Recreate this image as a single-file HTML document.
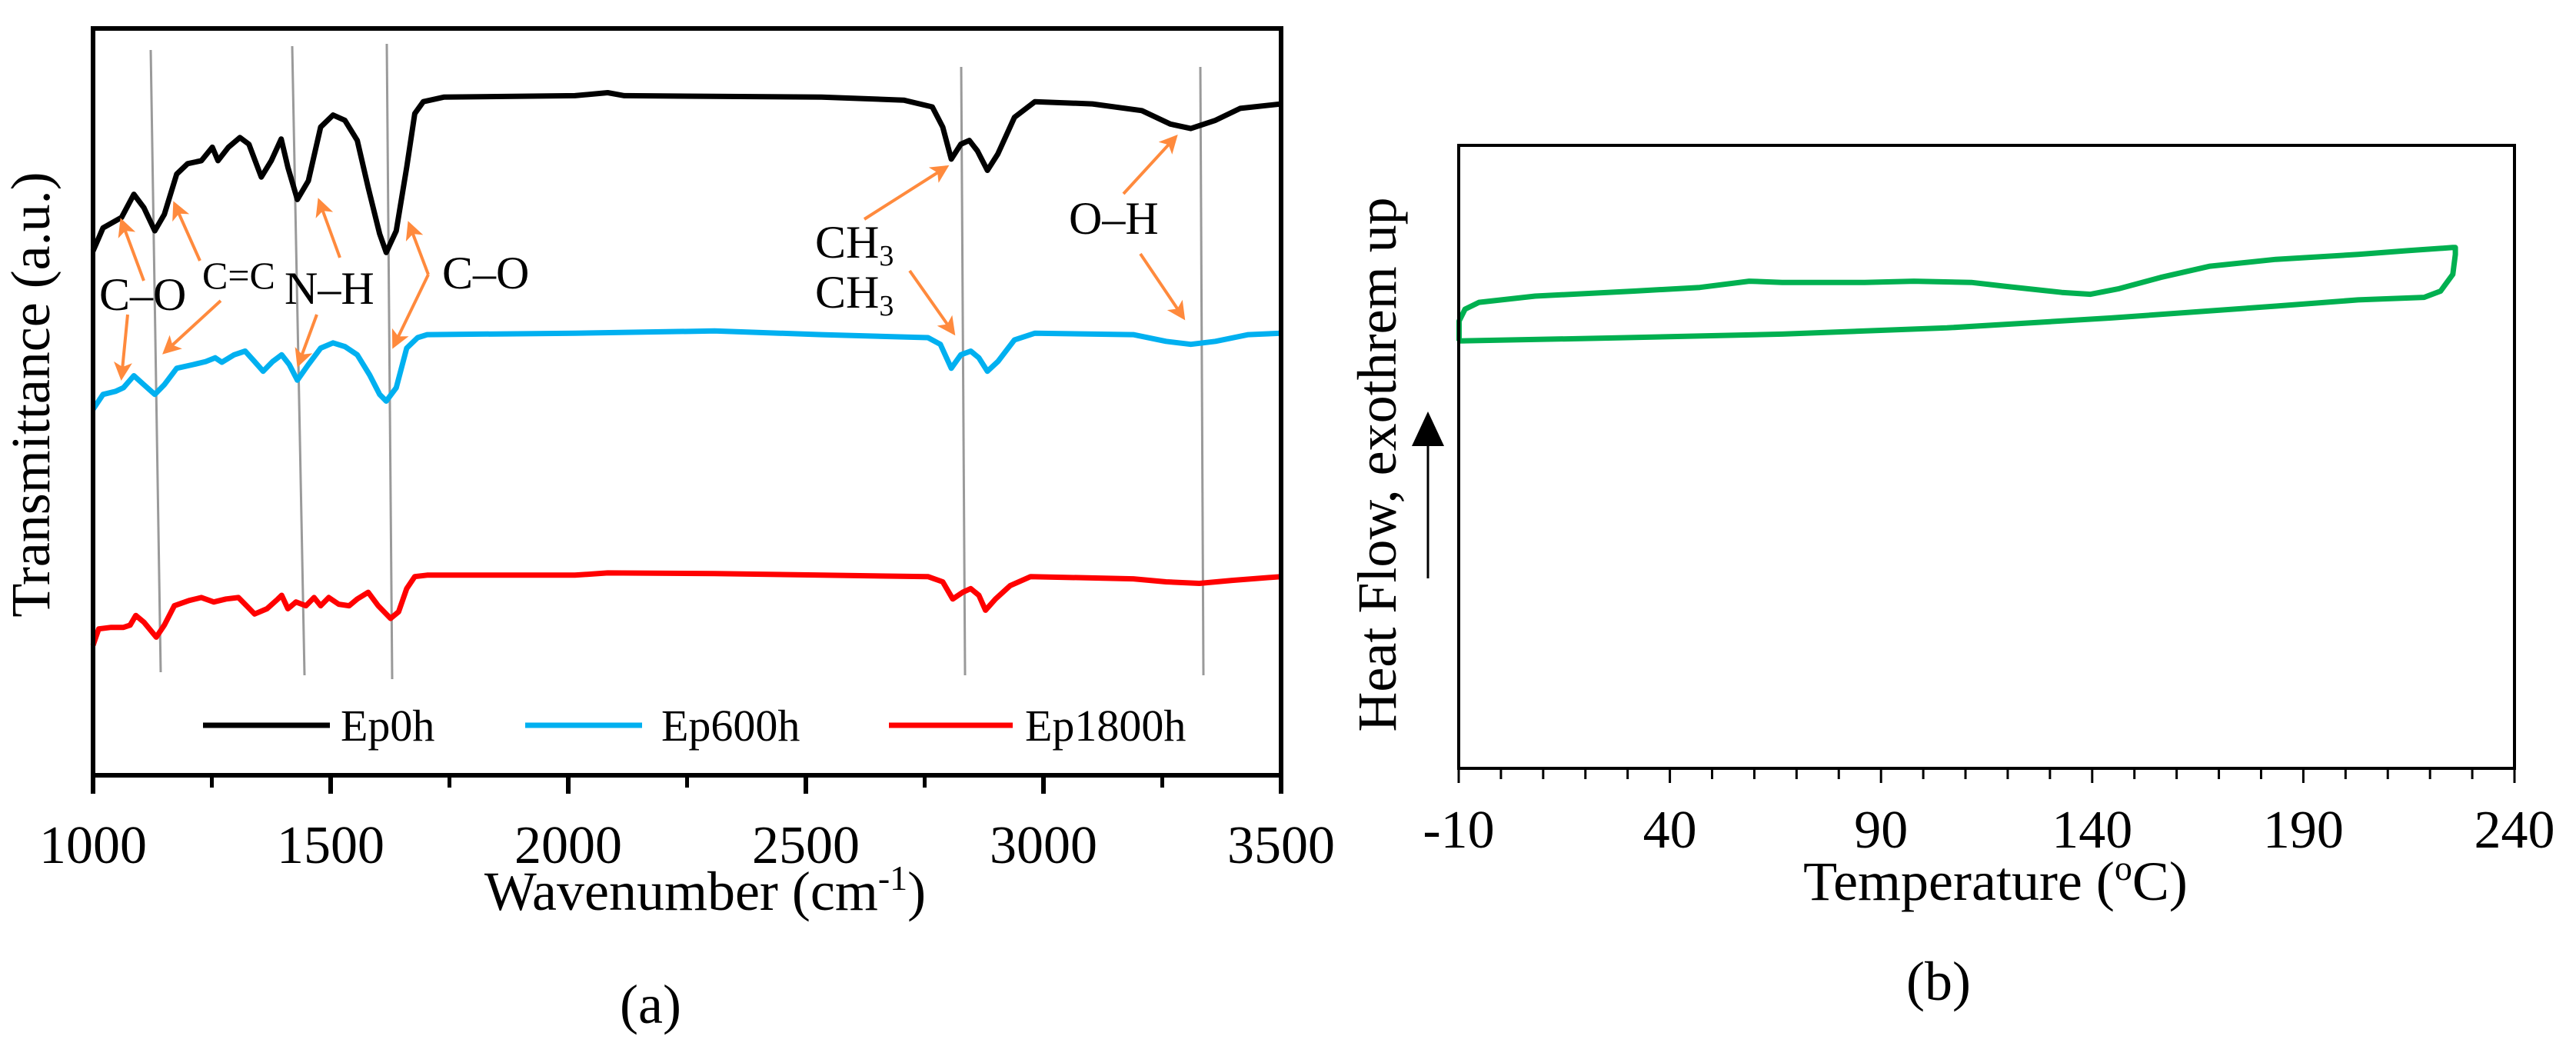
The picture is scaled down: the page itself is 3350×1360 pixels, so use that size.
<!DOCTYPE html>
<html><head><meta charset="utf-8">
<style>
html,body{margin:0;padding:0;background:#fff;}
svg{display:block;font-family:"Liberation Serif","DejaVu Serif",serif;}
svg text{font-family:"Liberation Serif","DejaVu Serif",serif !important;fill:#000;}
</style></head>
<body>
<svg id="fig" width="3350" height="1360" viewBox="0 0 3350 1360" xmlns="http://www.w3.org/2000/svg">
<defs>
<marker id="ah" markerWidth="6" markerHeight="6" refX="5" refY="3" orient="auto" markerUnits="strokeWidth">
<path d="M0,0 L6,3 L0,6 L1.5,3 Z" fill="#FF8A3D"/>
</marker>
</defs>
<g id="left"></g>
<g id="right"></g>
</svg>
<script>
// ---- FTIR data (wavenumber cm-1, transmittance a.u.) ----
const ep0hWn = [1000,1021,1060,1086,1107,1130,1150,1176,1199,1228,1251,1263,1285,1309,1328,1354,1375,1396,1410,1430,1453,1479,1505,1530,1556,1579,1603,1617,1638,1660,1677,1695,1738,2014,2083,2118,2533,2706,2766,2788,2806,2826,2844,2861,2882,2904,2939,2982,3103,3207,3267,3310,3362,3414,3500];
const ep0hT = [70.2,73.3,74.7,77.8,76.0,72.9,75.1,80.5,81.9,82.3,84.1,82.3,84.1,85.4,84.5,80.1,82.3,85.2,81.4,77.1,79.6,86.8,88.4,87.7,85.0,78.7,72.5,70.0,72.9,81.4,88.6,90.2,90.8,91.0,91.4,91.0,90.8,90.4,89.5,86.8,82.5,84.5,85.0,83.6,81.0,83.2,88.1,90.2,89.9,89.0,87.2,86.6,87.7,89.3,89.9];
const ep600hWn = [1000,1021,1047,1064,1086,1107,1130,1150,1176,1211,1237,1257,1271,1297,1320,1340,1358,1378,1397,1413,1430,1453,1479,1505,1530,1556,1582,1603,1617,1638,1660,1683,1703,2014,2308,2533,2757,2783,2806,2826,2847,2864,2882,2904,2939,2982,3189,3258,3310,3362,3431,3500];
const ep600hT = [49.0,51.0,51.4,51.9,53.5,52.3,51.0,52.3,54.5,55.0,55.4,55.9,55.3,56.3,56.8,55.4,54.1,55.4,56.3,55.0,52.9,55.0,57.2,57.9,57.4,56.3,53.6,51.0,50.1,51.9,57.2,58.6,59.0,59.2,59.5,59.0,58.6,57.7,54.5,56.3,56.8,55.9,54.1,55.4,58.3,59.2,59.0,58.1,57.7,58.1,59.0,59.2];
const ep1800hWn = [1000,1012,1038,1064,1078,1090,1107,1133,1150,1171,1202,1228,1254,1280,1306,1323,1340,1366,1389,1397,1410,1427,1448,1465,1479,1496,1517,1539,1556,1579,1600,1626,1643,1660,1677,1703,2014,2083,2308,2533,2757,2788,2809,2830,2847,2864,2878,2899,2930,2973,3189,3258,3328,3397,3500];
const ep1800hT = [17.4,19.6,19.8,19.8,20.1,21.4,20.5,18.5,20.1,22.7,23.4,23.8,23.2,23.6,23.8,22.7,21.6,22.3,23.6,24.1,22.3,23.2,22.7,23.8,22.7,23.8,22.9,22.7,23.6,24.5,22.7,21.0,21.9,25.0,26.6,26.8,26.8,27.1,27.0,26.8,26.6,25.9,23.6,24.5,25.0,24.1,22.1,23.6,25.4,26.6,26.3,25.9,25.7,26.1,26.6];
const ftirTicks = [1000,1500,2000,2500,3000,3500];
const ftirMinor = [1250,1750,2250,2750,3250];
const seriesNames = ["Ep0h","Ep600h","Ep1800h"];
// ---- DSC data (temperature °C, heat flow a.u.) ----
const dscTemp = [-9.9,-9.9,-8.5,-5.2,8.1,31.5,47.1,58.8,66.6,86.1,97.8,111.4,119.2,132.8,139.6,146.4,156.2,167.9,183.5,203.0,214.7,225.4,226.0,226.0,225.4,222.5,218.6,203.0,183.5,144.5,105.6,66.6,27.6,-9.9];
const dscHF = [68.6,71.8,73.7,74.8,75.8,76.6,77.2,78.2,78.0,78.0,78.2,78.0,77.4,76.4,76.1,77.0,78.8,80.6,81.7,82.5,83.1,83.6,83.6,82.5,79.3,76.6,75.6,75.2,74.2,72.3,70.7,69.7,69.1,68.6];
const dscTicks = [-10,40,90,140,190,240];

const NS = "http://www.w3.org/2000/svg";
const FONT = '"Liberation Serif", "DejaVu Serif", serif';
function mk(tag, attrs, parent){const e=document.createElementNS(NS,tag);for(const k in attrs)e.setAttribute(k,attrs[k]);if(tag==='text')e.setAttribute('font-family',FONT);parent.appendChild(e);return e;}

// ===== Left panel =====
const L = document.getElementById('left');
const lx0=121,lx1=1666,ly0=37,ly1=1008;
const xW = w => lx0 + (w-1000)/2500*(lx1-lx0);
const yT = t => ly1 - t*(ly1-ly0)/100;

const refLines = [[196,65,209,874],[380,60,396,878],[503,57,510,883],[1250,87,1255,878],[1561,87,1565,878]];
refLines.forEach((r,i)=>{
  const ln=mk('line',{x1:r[0],y1:r[1],x2:r[2],y2:r[3],stroke:'#9a9a9a','stroke-width':3},L);
  
  
});

const series=[[ep0hWn,ep0hT,'#000000'],[ep600hWn,ep600hT,'#00B0F0'],[ep1800hWn,ep1800hT,'#FF0000']];
series.forEach((s,i)=>{
  const d=s[0].map((w,j)=>(j?'L':'M')+xW(w).toFixed(1)+','+yT(s[1][j]).toFixed(1)).join(' ');
  const p=mk('path',{d:d,fill:'none',stroke:s[2],'stroke-width':7,'stroke-linejoin':'round'},L);
  
  
});

const fr=mk('path',{d:`M${lx0},${ly1} L${lx0},${ly0} L${lx1},${ly0} L${lx1},${ly1} Z`,fill:'none',stroke:'#000','stroke-width':6},L);


ftirTicks.forEach(t=>{
  const tk=mk('line',{x1:xW(t),y1:ly1,x2:xW(t),y2:ly1+24,stroke:'#000','stroke-width':6},L);
  
  
  const tx=mk('text',{x:xW(t),y:1122,'font-size':70,'text-anchor':'middle'},L);
  tx.textContent=t;
  
  
});
ftirMinor.forEach(t=>{
  const tk=mk('line',{x1:xW(t),y1:ly1,x2:xW(t),y2:ly1+16,stroke:'#000','stroke-width':5},L);
  
  
});

const legPos=[[264,429,443],[683,835,860],[1156,1317,1333]];
legPos.forEach((p,i)=>{
  const ln=mk('line',{x1:p[0],y1:943,x2:p[1],y2:943,stroke:series[i][2],'stroke-width':7},L);
  
  
  const tx=mk('text',{x:p[2],y:963,'font-size':58},L);
  tx.textContent=seriesNames[i];
  
  
});

const arrows=[[187,365,158,287],[166,409,158,491],[260,339,227,265],[287,391,214,458],[442,335,415,261],[412,409,388,474],[557,357,532,291],[557,357,512,450],[1124,285,1231,217],[1183,352,1240,433],[1461,252,1529,178],[1483,330,1539,413]];
arrows.forEach(a=>{
  const ln=mk('line',{x1:a[0],y1:a[1],x2:a[2],y2:a[3],stroke:'#FF8A3D','stroke-width':4,'marker-end':'url(#ah)'},L);
  
  
});
const labels=[['C–O',129,403,60],['C=C',263,375,50],['N–H',370,395,60],['C–O',575,375,60],['O–H',1390,304,60]];
labels.forEach(l=>{
  const tx=mk('text',{x:l[1],y:l[2],'font-size':l[3]},L);
  tx.textContent=l[0];
  
  
});
[335,400].forEach(b=>{
  const tx=mk('text',{x:1060,y:b,'font-size':60},L);
  tx.innerHTML='CH<tspan font-size="38" dy="10">3</tspan>';
  
  
});

const xt=mk('text',{x:917,y:1183,'font-size':72,'text-anchor':'middle'},L);
xt.innerHTML='Wavenumber (cm<tspan font-size="46" dy="-26">-1</tspan><tspan dy="26">)</tspan>';


const yt=mk('text',{x:0,y:0,'font-size':72,'text-anchor':'middle',transform:'translate(64,513) rotate(-90)'},L);
yt.textContent='Transmittance (a.u.)';


const ca=mk('text',{x:846,y:1330,'font-size':72,'text-anchor':'middle'},L);
ca.textContent='(a)';



// ===== Right panel =====
const R=document.getElementById('right');
const rx0=1897,rx1=3270,ry0=189,ry1=999;
const xC = t => rx0 + (t+10)/250*(rx1-rx0);
const yH = h => ry1 - h*(ry1-ry0)/100;

const gd=dscTemp.map((t,j)=>(j?'L':'M')+xC(t).toFixed(1)+','+yH(dscHF[j]).toFixed(1)).join(' ');
const gp=mk('path',{d:gd,fill:'none',stroke:'#00B050','stroke-width':7,'stroke-linejoin':'round'},R);



const rf=mk('rect',{x:rx0,y:ry0,width:rx1-rx0,height:ry1-ry0,fill:'none',stroke:'#000','stroke-width':4},R);


for(let t=-10;t<=240;t+=10){
  const major=(t+10)%50===0;
  const tk=mk('line',{x1:xC(t),y1:ry1,x2:xC(t),y2:ry1+(major?19:14),stroke:'#000','stroke-width':3},R);
  
  
}
dscTicks.forEach(t=>{
  const tx=mk('text',{x:xC(t),y:1102,'font-size':70,'text-anchor':'middle'},R);
  tx.textContent=t;
  
  
});
const rxt=mk('text',{x:2595,y:1170,'font-size':72,'text-anchor':'middle'},R);
rxt.innerHTML='Temperature (<tspan font-size="46" dy="-26">o</tspan><tspan dy="26">C)</tspan>';


const ryt=mk('text',{x:0,y:0,'font-size':72,'text-anchor':'middle',transform:'translate(1815,604) rotate(-90)'},R);
ryt.textContent='Heat Flow, exothrem up';


const ar=mk('line',{x1:1857,y1:752,x2:1857,y2:570,stroke:'#000','stroke-width':3},R);


const ah=mk('polygon',{points:'1857,535 1836,580 1878,580',fill:'#000'},R);


const cb=mk('text',{x:2521,y:1300,'font-size':72,'text-anchor':'middle'},R);
cb.textContent='(b)';


</script>
</body></html>
